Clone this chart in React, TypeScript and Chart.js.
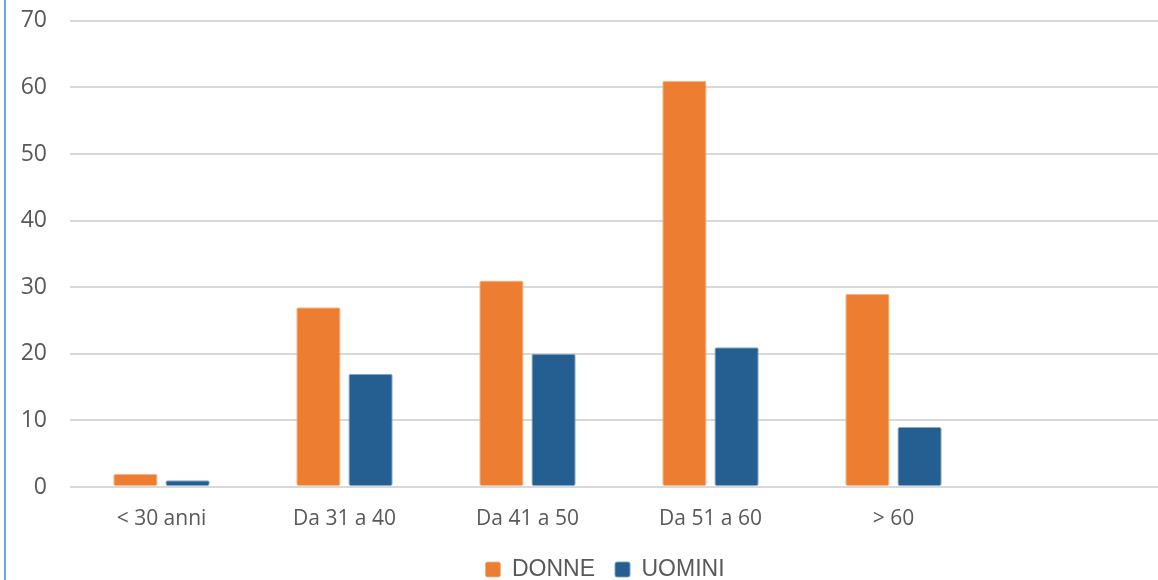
import React, { useEffect, useRef } from "react";
import { Chart, registerables } from "chart.js";

Chart.register(...registerables);

const categories = ["< 30 anni", "Da 31 a 40", "Da 41 a 50", "Da 51 a 60", "> 60", ""];
const donne = [2, 27, 31, 61, 29, null];
const uomini = [1, 17, 20, 21, 9, null];
const yTicks = [0, 10, 20, 30, 40, 50, 60, 70];

const shiftLegend = {
  id: "shiftLegend",
  afterLayout(chart: any) {
    if (chart.legend) {
      chart.legend.left += 21;
      chart.legend.right += 21;
    }
  },
};

export default function App() {
  const ref = useRef<HTMLCanvasElement | null>(null);
  useEffect(() => {
    if (!ref.current) return;
    const chart = new Chart(ref.current, {
      type: "bar",
      data: {
        labels: categories,
        datasets: [
          {
            label: "DONNE",
            data: donne,
            backgroundColor: "#ED7D31",
            borderColor: "rgba(244,177,131,0.9)",
            borderWidth: 1,
            borderSkipped: false,
            borderRadius: 2,
            barPercentage: 0.85,
            categoryPercentage: 0.57,
          },
          {
            label: "UOMINI",
            data: uomini,
            backgroundColor: "#255E91",
            borderColor: "rgba(124,160,196,0.9)",
            borderWidth: 1,
            borderSkipped: false,
            borderRadius: 2,
            barPercentage: 0.85,
            categoryPercentage: 0.57,
          },
        ],
      },
      plugins: [shiftLegend],
      options: {
        animation: false,
        responsive: false,
        maintainAspectRatio: false,
        layout: { padding: { top: 8, left: 0, right: 0, bottom: 0 } },
        plugins: {
          tooltip: { enabled: false },
          legend: {
            position: "bottom",
            labels: {
              color: "#595959",
              font: { family: "'Liberation Sans', Arial, sans-serif", size: 23 },
              boxWidth: 15,
              boxHeight: 15,
              padding: 20,
              useBorderRadius: true,
              borderRadius: 2,
            },
          },
        },
        scales: {
          x: {
            afterFit: (s: any) => {
              s.height = 51;
            },
            grid: { display: false, drawTicks: false },
            border: { display: false },
            ticks: {
              color: "#595959",
              font: { family: "'Open Sans', sans-serif", size: 21 },
              padding: 19,
              maxRotation: 0,
              autoSkip: false,
            },
          },
          y: {
            min: 0,
            max: 70,
            afterFit: (s: any) => {
              s.width = 70;
            },
            afterBuildTicks: (s: any) => {
              s.ticks = yTicks.map((v) => ({ value: v }));
            },
            grid: { color: "#d9d9d9", lineWidth: 2, drawTicks: false },
            border: { display: false },
            ticks: {
              color: "#595959",
              font: { family: "'Open Sans', sans-serif", size: 23 },
              padding: 23,
            },
          },
        },
      },
    });
    return () => chart.destroy();
  }, []);
  return (
    <div style={{ position: "fixed", left: 0, top: 0, width: 1158, height: 580, overflow: "hidden", background: "#fff" }}>
      <canvas ref={ref} width={1168} height={607} style={{ position: "absolute", left: 0, top: -16, width: 1168, height: 607 }} />
      <div style={{ position: "absolute", left: 4, top: 0, width: 2, height: 580, background: "#6FA8DC" }} />
    </div>
  );
}
